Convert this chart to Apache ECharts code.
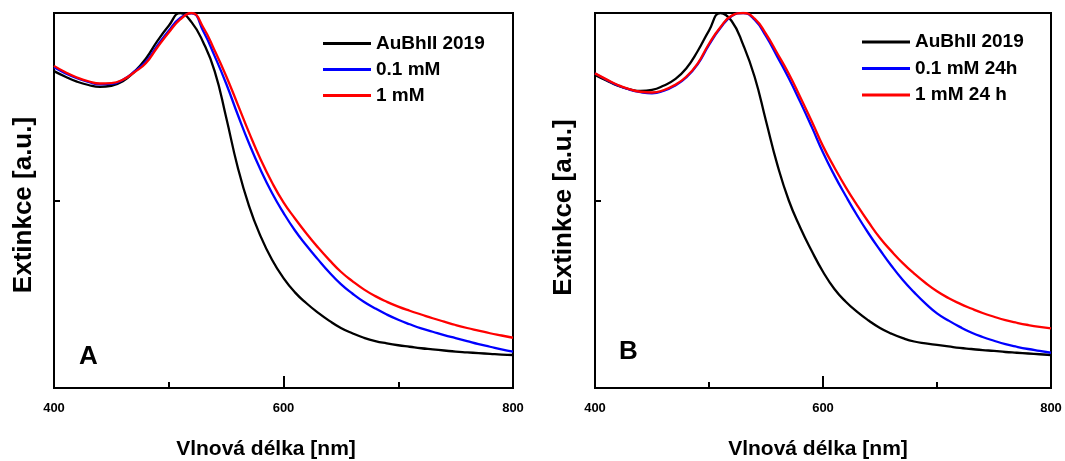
<!DOCTYPE html>
<html>
<head>
<meta charset="utf-8">
<script src="https://cdn.jsdelivr.net/npm/echarts@6/dist/echarts.min.js"></script>
<style>
html,body{margin:0;padding:0;background:#fff;}
#chart{width:1065px;height:461px;}
</style>
</head>
<body>
<div id="chart"></div>
<script>
// Wavelength grid (nm)
const wavelengths = [400,410,420,430,440,450,460,470,480,490,500,510,520,530,540,550,560,570,580,590,600,
  610,620,630,640,650,660,670,680,690,700,710,720,730,740,750,760,770,780,790,800];

// Panel A
const namesA = ['AuBhII 2019', '0.1 mM', '1 mM'];
const aBlack = [0.845,0.830,0.817,0.808,0.803,0.806,0.818,0.843,0.878,0.925,0.966,1.000,0.975,0.922,0.845,0.722,0.590,0.485,0.405,0.342,0.293,
  0.255,0.226,0.201,0.179,0.160,0.146,0.134,0.125,0.119,0.114,0.110,0.106,0.103,0.100,0.097,0.095,0.093,0.091,0.089,0.088];
const aBlue = [0.855,0.839,0.826,0.816,0.810,0.811,0.822,0.844,0.870,0.913,0.953,0.987,0.999,0.952,0.885,0.812,0.730,0.652,0.582,0.520,0.467,
  0.420,0.380,0.343,0.308,0.277,0.252,0.230,0.212,0.196,0.182,0.170,0.159,0.150,0.141,0.133,0.125,0.117,0.110,0.103,0.097];
const aRed = [0.859,0.842,0.828,0.818,0.812,0.813,0.822,0.842,0.866,0.908,0.948,0.983,1.000,0.962,0.900,0.832,0.757,0.681,0.610,0.548,0.495,
  0.452,0.412,0.375,0.341,0.310,0.285,0.263,0.245,0.230,0.217,0.206,0.196,0.186,0.177,0.168,0.160,0.153,0.146,0.140,0.134];

// Panel B
const namesB = ['AuBhII 2019', '0.1 mM 24h', '1 mM 24 h'];
const bBlack = [0.835,0.820,0.806,0.797,0.792,0.795,0.806,0.823,0.852,0.898,0.953,1.000,0.978,0.915,0.830,0.712,0.595,0.500,0.428,0.366,0.310,
  0.264,0.230,0.203,0.180,0.160,0.145,0.133,0.124,0.119,0.115,0.111,0.107,0.104,0.101,0.099,0.096,0.094,0.092,0.090,0.088];
const bBlue = [0.839,0.822,0.807,0.796,0.789,0.786,0.792,0.806,0.828,0.863,0.915,0.960,0.992,1.000,0.982,0.938,0.883,0.826,0.763,0.697,0.628,
  0.567,0.512,0.460,0.412,0.368,0.326,0.288,0.255,0.225,0.199,0.180,0.163,0.148,0.136,0.126,0.117,0.110,0.104,0.099,0.094];
const bRed = [0.839,0.823,0.808,0.797,0.790,0.788,0.794,0.808,0.830,0.865,0.918,0.962,0.993,1.000,0.985,0.944,0.892,0.838,0.776,0.712,0.645,
  0.588,0.535,0.487,0.442,0.400,0.365,0.333,0.305,0.280,0.258,0.240,0.225,0.212,0.200,0.190,0.181,0.174,0.168,0.163,0.159];

const xTickLabels = ['400', '600', '800'];
const xTitle = 'Vlnová délka [nm]';
const yTitle = 'Extinkce [a.u.]';
const panelLabels = ['A', 'B'];
const colors = ['#000000', '#0000ff', '#ff0000'];

const FONT = "'Liberation Sans', Arial, Helvetica, sans-serif";
const pairs = (ys) => ys.map((y, i) => [wavelengths[i], y]);

function xAxisFor(gi) {
  return {
    type: 'value', gridIndex: gi, min: 400, max: 800, interval: 200,
    axisLine: { show: false },
    axisTick: { show: true, inside: true, length: 12, lineStyle: { color: '#000', width: 2 } },
    minorTick: { show: true, splitNumber: 2, length: 6, lineStyle: { color: '#000', width: 2 } },
    splitLine: { show: false },
    axisLabel: {
      margin: 14, color: '#000', fontSize: 13, fontWeight: 'bold', fontFamily: FONT,
      formatter: (v) => xTickLabels.indexOf(String(v)) >= 0 ? String(v) : ''
    }
  };
}
function yAxisFor(gi) {
  return {
    type: 'value', gridIndex: gi, min: 0, max: 1, interval: 0.5,
    axisLine: { show: false },
    axisTick: { show: true, inside: true, length: 6, lineStyle: { color: '#000', width: 2 } },
    splitLine: { show: false },
    axisLabel: { show: false }
  };
}
function lineSeries(name, gi, ys, color) {
  return {
    type: 'line', name: name, xAxisIndex: gi, yAxisIndex: gi,
    data: pairs(ys), showSymbol: false, smooth: 0.5, clip: true,
    color: color,
    lineStyle: { color: color, width: 2.3 },
    emphasis: { disabled: true }
  };
}
function legendFor(names, left, top, gap) {
  return {
    orient: 'vertical', left: left, top: top, padding: 0,
    itemWidth: 48, itemHeight: 3, itemGap: gap, icon: 'rect',
    selectedMode: false,
    textStyle: { color: '#000', fontSize: 19, fontWeight: 'bold', fontFamily: FONT },
    data: names
  };
}
function txt(text, x, y, size, rot) {
  return {
    type: 'text', x: x, y: y, rotation: rot || 0,
    style: {
      text: text, fill: '#000',
      font: 'bold ' + size + 'px ' + FONT,
      align: 'center', verticalAlign: 'middle',
      textAlign: 'center', textVerticalAlign: 'middle'
    }
  };
}

const chart = echarts.init(document.getElementById('chart'), null, { renderer: 'canvas' });
chart.setOption({
  backgroundColor: '#ffffff',
  animation: false,
  grid: [
    { left: 54, right: 552, top: 13, bottom: 73, show: true, borderColor: '#000', borderWidth: 2, backgroundColor: 'transparent' },
    { left: 595, right: 14, top: 13, bottom: 73, show: true, borderColor: '#000', borderWidth: 2, backgroundColor: 'transparent' }
  ],
  xAxis: [xAxisFor(0), xAxisFor(1)],
  yAxis: [yAxisFor(0), yAxisFor(1)],
  legend: [
    legendFor(namesA, 323, 34, 7),
    legendFor(namesB, 862, 32.5, 7.5)
  ],
  series: [
    lineSeries(namesA[0], 0, aBlack, colors[0]),
    lineSeries(namesA[1], 0, aBlue, colors[1]),
    lineSeries(namesA[2], 0, aRed, colors[2]),
    lineSeries(namesB[0], 1, bBlack, colors[0]),
    lineSeries(namesB[1], 1, bBlue, colors[1]),
    lineSeries(namesB[2], 1, bRed, colors[2])
  ],
  graphic: [
    txt(yTitle, 23.5, 205, 26, Math.PI / 2),
    txt(yTitle, 563.5, 207.5, 26, Math.PI / 2),
    txt(xTitle, 266, 449.5, 21),
    txt(xTitle, 818, 449.5, 21),
    txt(panelLabels[0], 88.5, 357, 26),
    txt(panelLabels[1], 628.5, 352, 26)
  ]
});
</script>
</body>
</html>
